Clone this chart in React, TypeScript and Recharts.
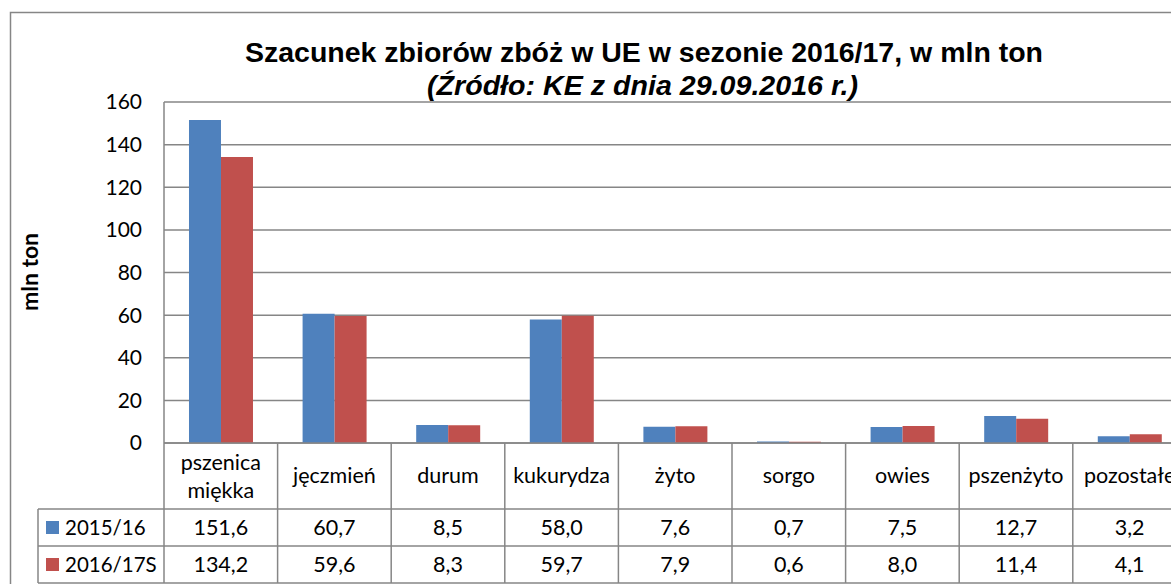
import React from "react";
import { BarChart, Bar, XAxis, YAxis, CartesianGrid, Customized } from "recharts";

// categories (line breaks as in the original table header)
const categories = ["pszenica\nmiękka", "jęczmień", "durum", "kukurydza", "żyto", "sorgo", "owies", "pszenżyto", "pozostałe"];
const seriesNames = ["2015/16", "2016/17S"];
const values2015 = [151.6, 60.7, 8.5, 58.0, 7.6, 0.7, 7.5, 12.7, 3.2];
const values2016 = [134.2, 59.6, 8.3, 59.7, 7.9, 0.6, 8.0, 11.4, 4.1];
const yTicks = [0, 20, 40, 60, 80, 100, 120, 140, 160];

const data = categories.map((c, i) => ({ cat: c, a: values2015[i], b: values2016[i] }));

const W = 1200;
const H = 584;
const MARGIN = { top: 102, right: 13.6, left: 0, bottom: 0 };
const Y_W = 164;
const X_H = 141;
const BAND = (W - MARGIN.left - MARGIN.right - Y_W) / categories.length;

const BLUE = "#4F81BD";
const RED = "#C0504D";
const LINE = "#868686";
const FONT = "Lato, 'Open Sans', sans-serif";
const ARIAL = "'Liberation Sans', Arial, sans-serif";
const TXT = 21.5;

const fmt = (v: number) => v.toFixed(1).replace(".", ",");

const TableTick = (props: any) => {
  const { x, y, index } = props;
  const lines = categories[index].split("\n");
  const left = x - BAND / 2;
  return (
    <g>
      <line x1={left} x2={left} y1={y} y2={y + 140} stroke={LINE} strokeWidth={1.5} />
      {lines.map((l, k) => (
        <text
          key={k}
          x={x}
          y={lines.length === 1 ? y + 40 : y + 27 + k * 28}
          textAnchor="middle"
          fontFamily={FONT}
          fontSize={TXT}
          fill="#000"
        >
          {l}
        </text>
      ))}
      <text x={x} y={y + 92} textAnchor="middle" fontFamily={FONT} fontSize={TXT} fill="#000">
        {fmt(values2015[index])}
      </text>
      <text x={x} y={y + 129} textAnchor="middle" fontFamily={FONT} fontSize={TXT} fill="#000">
        {fmt(values2016[index])}
      </text>
    </g>
  );
};

const Decor = () => (
  <g>
    <rect x={10.5} y={12.5} width={1400} height={800} fill="none" stroke={LINE} strokeWidth={1.5} />
    <text x={644} y={62} textAnchor="middle" fontFamily={ARIAL} fontWeight="bold" fontSize={27}
      textLength={798} lengthAdjust="spacingAndGlyphs" fill="#000">
      Szacunek zbiorów zbóż w UE w sezonie 2016/17, w mln ton
    </text>
    <text x={642.5} y={95} textAnchor="middle" fontFamily={ARIAL} fontWeight="bold" fontStyle="italic" fontSize={27}
      textLength={431} lengthAdjust="spacingAndGlyphs" fill="#000">
      (Źródło: KE z dnia 29.09.2016 r.)
    </text>
    <text x={0} y={0} transform="translate(38 272) rotate(-90)" textAnchor="middle" fontFamily={FONT}
      fontWeight="bold" fontSize={23} fill="#000">
      mln ton
    </text>
    {/* legend column of the data table */}
    <line x1={38} x2={1400} y1={509} y2={509} stroke={LINE} strokeWidth={1.5} />
    <line x1={38} x2={1400} y1={546} y2={546} stroke={LINE} strokeWidth={1.5} />
    <line x1={38} x2={1400} y1={583} y2={583} stroke={LINE} strokeWidth={1.5} />
    <line x1={38} x2={38} y1={509} y2={583} stroke={LINE} strokeWidth={1.5} />
    {seriesNames.map((s, i) => (
      <g key={s}>
        <rect x={46} y={521 + i * 37} width={13} height={13} fill={i === 0 ? BLUE : RED} />
        <text x={65} y={535 + i * 37} fontFamily={FONT} fontSize={20.5} fill="#000">
          {s}
        </text>
      </g>
    ))}
  </g>
);

export default function App() {
  return (
    <div style={{ position: "absolute", left: 0, top: 0, width: 1171, height: 584, overflow: "hidden", background: "#fff" }}>
      <BarChart width={W} height={H} data={data} margin={MARGIN} barCategoryGap="22%" barGap={0}>
        <CartesianGrid vertical={false} stroke={LINE} strokeWidth={1.5} />
        <XAxis
          dataKey="cat"
          height={X_H}
          interval={0}
          tickLine={false}
          tickSize={0}
          tickMargin={0}
          axisLine={{ stroke: LINE, strokeWidth: 1.5 }}
          tick={<TableTick />}
        />
        <YAxis
          width={Y_W}
          domain={[0, 160]}
          ticks={yTicks}
          interval={0}
          tickLine={false}
          tickSize={0}
          tickMargin={22}
          axisLine={{ stroke: LINE, strokeWidth: 1.5 }}
          tick={{ fill: "#000", fontSize: 21, fontFamily: FONT }}
        />
        <Bar dataKey="a" name={seriesNames[0]} fill={BLUE} isAnimationActive={false} />
        <Bar dataKey="b" name={seriesNames[1]} fill={RED} isAnimationActive={false} />
        <Customized component={<Decor />} />
      </BarChart>
    </div>
  );
}
